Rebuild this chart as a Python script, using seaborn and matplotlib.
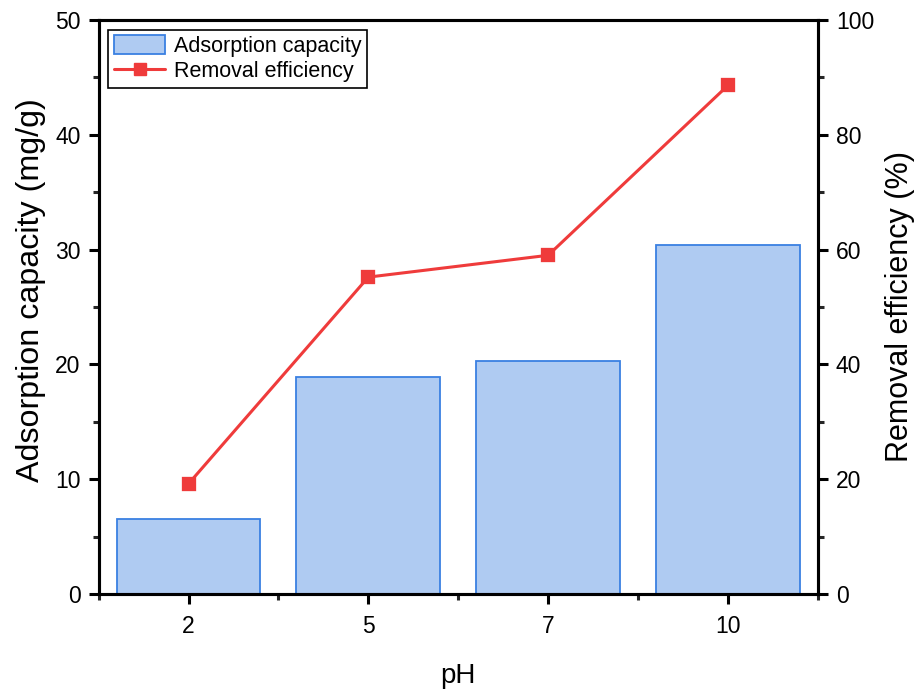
import matplotlib
matplotlib.use("Agg")
import matplotlib.pyplot as plt
import seaborn as sns
from matplotlib.patches import Patch
from matplotlib.lines import Line2D
from matplotlib.ticker import MultipleLocator, FixedLocator

pH_labels = ["2", "5", "7", "10"]
adsorption_capacity = [6.55, 18.9, 20.25, 30.4]
removal_efficiency = [19.2, 55.2, 59.0, 88.6]

bar_face = "#AFCBF2"
bar_edge = "#3A80E2"
line_color = "#EF3B3B"

sns.set_theme(style="white")
plt.rcParams['font.family'] = ['Liberation Sans', 'DejaVu Sans']
plt.rcParams['text.color'] = 'black'
plt.rcParams['axes.labelcolor'] = 'black'

fig = plt.figure(figsize=(9.22, 6.89), dpi=100)
ax = fig.add_axes([0.107, 0.138, 0.78, 0.833])

sns.barplot(x=pH_labels, y=adsorption_capacity, order=pH_labels, ax=ax,
            color=bar_face, edgecolor=bar_edge, linewidth=1.3, width=0.8,
            saturation=1)

ax2 = ax.twinx()
sns.pointplot(x=pH_labels, y=removal_efficiency, order=pH_labels, ax=ax2,
              color=line_color, markers="s", markersize=8, linewidth=2.2)

ax.set_xlim(-0.5, 3.5)
ax.set_ylim(0, 50)
ax2.set_ylim(0, 100)
ax2.set_xlim(-0.5, 3.5)

ax.yaxis.set_major_locator(MultipleLocator(10))
ax.yaxis.set_minor_locator(MultipleLocator(5))
ax2.yaxis.set_major_locator(MultipleLocator(20))
ax2.yaxis.set_minor_locator(MultipleLocator(10))
ax.xaxis.set_minor_locator(FixedLocator([-0.5, 0.5, 1.5, 2.5, 3.5]))

for a in (ax, ax2):
    for s in a.spines.values():
        s.set_linewidth(2.2)
        s.set_color("black")
    a.tick_params(which="major", direction="out", length=7, width=2.2,
                  labelsize=16.5, colors="black", labelcolor="black", pad=6)
    a.tick_params(which="minor", direction="out", length=4, width=2.2)

ax.tick_params(axis="y", which="both", left=True, right=False)
ax.tick_params(axis="x", which="both", bottom=True, top=False, pad=8)
ax2.tick_params(axis="y", which="both", left=False, right=True)

ax.set_xlabel("pH", fontsize=20, labelpad=18)
ax.set_ylabel("Adsorption capacity (mg/g)", fontsize=23.2, labelpad=6)
ax.yaxis.set_label_coords(-0.073, 0.53)
ax2.set_ylabel("Removal efficiency (%)", fontsize=22, labelpad=8)

handles = [
    Patch(facecolor=bar_face, edgecolor=bar_edge, linewidth=1.3,
          label="Adsorption capacity"),
    Line2D([0], [0], color=line_color, linewidth=2.2, marker="s",
           markersize=8, label="Removal efficiency"),
]
leg = ax2.legend(handles=handles, loc="upper left", fontsize=15.5,
                 frameon=True, fancybox=False, edgecolor="black",
                 borderaxespad=0.45, handlelength=2.4, handleheight=1.0,
                 handletextpad=0.4, borderpad=0.25, labelspacing=0.15)
leg.get_frame().set_linewidth(1.2)
leg.get_frame().set_alpha(1)

fig.savefig("out.png", dpi=100)
